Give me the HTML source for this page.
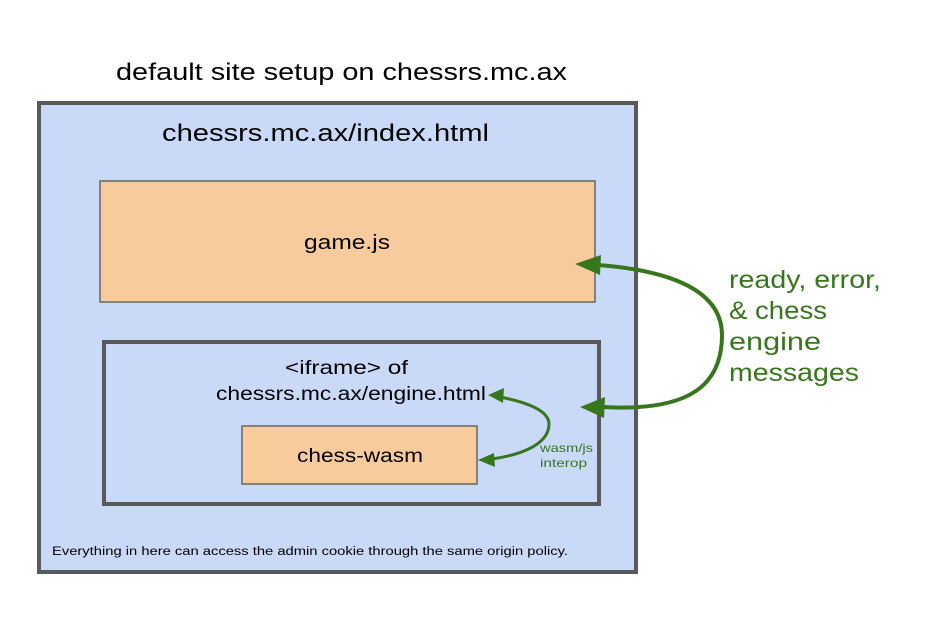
<!DOCTYPE html>
<html><head><style>body{margin:0;background:#fff}</style></head><body>
<svg width="931" height="636" viewBox="0 0 931 636" xmlns="http://www.w3.org/2000/svg" font-family="Liberation Sans, sans-serif">
<rect width="931" height="636" fill="#fff"/>
<text x="116" y="80" font-size="24" textLength="451" lengthAdjust="spacingAndGlyphs" fill="#000">default site setup on chessrs.mc.ax</text>
<rect x="39" y="103" width="597" height="469" fill="#c9daf8" stroke="#595959" stroke-width="4"/>
<text x="162" y="141" font-size="24" textLength="327" lengthAdjust="spacingAndGlyphs">chessrs.mc.ax/index.html</text>
<rect x="100" y="181" width="495" height="121" fill="#f8cb9d" stroke="#666" stroke-width="1.5"/>
<text x="304" y="249" font-size="20" textLength="86" lengthAdjust="spacingAndGlyphs">game.js</text>
<rect x="104" y="342" width="495" height="162" fill="#c9daf8" stroke="#595959" stroke-width="4"/>
<text x="285" y="374" font-size="19" textLength="123" lengthAdjust="spacingAndGlyphs">&lt;iframe&gt; of</text>
<text x="216" y="400" font-size="19" textLength="270" lengthAdjust="spacingAndGlyphs">chessrs.mc.ax/engine.html</text>
<rect x="242" y="426" width="235" height="58" fill="#f8cb9d" stroke="#666" stroke-width="1.5"/>
<text x="297" y="462" font-size="19" textLength="126" lengthAdjust="spacingAndGlyphs">chess-wasm</text>
<text x="52" y="555" font-size="11.5" textLength="516" lengthAdjust="spacingAndGlyphs">Everything in here can access the admin cookie through the same origin policy.</text>
<path d="M598,265 C690,272 722,300 722,335 C722,385 690,412 602,407" fill="none" stroke="#38761d" stroke-width="4"/>
<polygon points="575,264 601,255 600,275" fill="#38761d"/>
<polygon points="580,407 605,397 604,418" fill="#38761d"/>
<path d="M500,397 C525,402 550,410 549,425 C548,445 520,455 492,459" fill="none" stroke="#38761d" stroke-width="3"/>
<polygon points="488,395 504,388 503,403" fill="#38761d"/>
<polygon points="478,460 494,453 495,467" fill="#38761d"/>
<text x="540" y="452" font-size="12" textLength="53" lengthAdjust="spacingAndGlyphs" fill="#38761d">wasm/js</text>
<text x="540" y="467" font-size="12" textLength="47" lengthAdjust="spacingAndGlyphs" fill="#38761d">interop</text>
<g font-size="25" fill="#38761d">
<text x="729" y="288" textLength="152" lengthAdjust="spacingAndGlyphs">ready, error,</text>
<text x="729" y="319" textLength="98" lengthAdjust="spacingAndGlyphs">&amp; chess</text>
<text x="729" y="350" textLength="92" lengthAdjust="spacingAndGlyphs">engine</text>
<text x="729" y="381" textLength="130" lengthAdjust="spacingAndGlyphs">messages</text>
</g>
</svg>
</body></html>
